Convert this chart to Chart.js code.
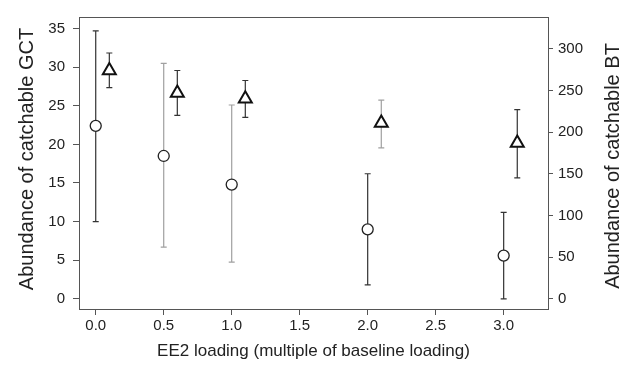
<!DOCTYPE html>
<html><head><meta charset="utf-8">
<script src="https://cdn.jsdelivr.net/npm/chart.js@4.4.1/dist/chart.umd.min.js"></script>
<style>html,body{margin:0;padding:0;background:#fff;}#wrap{width:633px;height:369px;}</style>
</head><body><div id="wrap"><canvas id="c" width="633" height="369"></canvas></div>
<script>
// ---- data ----
const gctDose = [0, 0.5, 1, 2, 3];
const gctMean = [22.4, 18.5, 14.8, 9.0, 5.6];
const gctLow  = [10.0, 6.7, 4.75, 1.8, 0];
const gctHigh = [34.7, 30.5, 25.1, 16.2, 11.2];
const btDose = [0.1, 0.6, 1.1, 2.1, 3.1];
const btMean = [274, 247, 240, 211, 187];
const btLow  = [253.5, 220, 217.6, 181, 145];
const btHigh = [295, 274, 262, 238.4, 227];
const xTicks = [0, 0.5, 1, 1.5, 2, 2.5, 3];
const yLeftTicks = [0, 5, 10, 15, 20, 25, 30, 35];
const yRightTicks = [0, 50, 100, 150, 200, 250, 300];
const xTitle = 'EE2 loading (multiple of baseline loading)';
const yLeftTitle = 'Abundance of catchable GCT';
const yRightTitle = 'Abundance of catchable BT';

// ---- styles ----
const DARK = '#333333', LIGHT = '#a0a0a0', AXIS = '#555555', TEXT = '#222222';
const gctBarColors = [DARK, LIGHT, LIGHT, DARK, DARK];
const btBarColors = [DARK, DARK, DARK, LIGHT, DARK];
const FONT = "'Liberation Sans', Arial, sans-serif";

function rotatedTitle(ctx, text, x, y) {
  ctx.save();
  ctx.fillStyle = TEXT;
  ctx.font = '20px ' + FONT;
  ctx.textAlign = 'center'; ctx.textBaseline = 'middle';
  ctx.translate(x, y);
  ctx.rotate(-Math.PI / 2);
  ctx.fillText(text, 0, 0);
  ctx.restore();
}

const errorBars = {
  id: 'errorBars',
  beforeDatasetsDraw(chart) {
    const ctx = chart.ctx, xs = chart.scales.x;
    const sets = [
      {dose: gctDose, lo: gctLow, hi: gctHigh, cols: gctBarColors, ys: chart.scales.y},
      {dose: btDose, lo: btLow, hi: btHigh, cols: btBarColors, ys: chart.scales.y2}
    ];
    ctx.save();
    ctx.lineWidth = 1.2;
    sets.forEach(s => {
      s.dose.forEach((d, i) => {
        const px = xs.getPixelForValue(d);
        const y1 = s.ys.getPixelForValue(s.lo[i]);
        const y2 = s.ys.getPixelForValue(s.hi[i]);
        ctx.strokeStyle = s.cols[i];
        ctx.beginPath();
        ctx.moveTo(px, y1); ctx.lineTo(px, y2);
        ctx.moveTo(px - 3, y1); ctx.lineTo(px + 3, y1);
        ctx.moveTo(px - 3, y2); ctx.lineTo(px + 3, y2);
        ctx.stroke();
      });
    });
    ctx.restore();
  },
  afterDraw(chart) {
    const ctx = chart.ctx, a = chart.chartArea;
    ctx.save();
    ctx.strokeStyle = AXIS; ctx.lineWidth = 1;
    ctx.beginPath();
    ctx.moveTo(a.left, a.top + 0.5); ctx.lineTo(a.right, a.top + 0.5);
    ctx.stroke();
    ctx.restore();
    const mid = (a.top + a.bottom) / 2;
    rotatedTitle(ctx, yLeftTitle, 27, mid - 4);
    rotatedTitle(ctx, yRightTitle, 613, mid + 3);
  }
};

const tickFont = {family: FONT, size: 15};
new Chart(document.getElementById('c'), {
  type: 'scatter',
  data: {
    datasets: [
      {
        label: 'GCT', yAxisID: 'y',
        data: gctDose.map((d, i) => ({x: d, y: gctMean[i]})),
        pointStyle: 'circle', pointRadius: 5.5, pointHoverRadius: 5.5,
        borderColor: '#222', backgroundColor: '#fff', pointBorderWidth: 1.3
      },
      {
        label: 'BT', yAxisID: 'y2',
        data: btDose.map((d, i) => ({x: d, y: btMean[i]})),
        pointStyle: 'triangle', pointRadius: 7.5, pointHoverRadius: 7.5,
        borderColor: '#111', backgroundColor: '#fff', pointBorderWidth: 2
      }
    ]
  },
  options: {
    responsive: false, animation: false, devicePixelRatio: 1,
    layout: {padding: {top: 9, left: 0, right: 0, bottom: 0}},
    plugins: {legend: {display: false}, tooltip: {enabled: false}},
    scales: {
      x: {
        type: 'linear', min: -0.123, max: 3.326,
        afterBuildTicks: s => { s.ticks = xTicks.map(v => ({value: v})); },
        afterFit: s => { s.height = 60; },
        ticks: {font: tickFont, color: TEXT, padding: 2, maxRotation: 0, autoSkip: false,
                callback: v => Number(v).toFixed(1)},
        grid: {drawOnChartArea: false, drawTicks: true, tickLength: 6, color: AXIS},
        border: {display: true, color: AXIS, width: 1},
        title: {display: true, text: xTitle, color: TEXT, font: {family: FONT, size: 17},
                padding: {top: 0, bottom: 7}}
      },
      y: {
        type: 'linear', position: 'left', min: -1.32, max: 36.5,
        afterBuildTicks: s => { s.ticks = yLeftTicks.map(v => ({value: v})); },
        afterFit: s => { s.width = 79; },
        ticks: {font: tickFont, color: TEXT, padding: 8, autoSkip: false},
        grid: {drawOnChartArea: false, drawTicks: true, tickLength: 6, color: AXIS},
        border: {display: true, color: AXIS, width: 1}
      },
      y2: {
        type: 'linear', position: 'right', min: -12.3, max: 338.2,
        afterBuildTicks: s => { s.ticks = yRightTicks.map(v => ({value: v})); },
        afterFit: s => { s.width = 85; },
        ticks: {font: tickFont, color: TEXT, padding: 5, autoSkip: false},
        grid: {drawOnChartArea: false, drawTicks: true, tickLength: 5, color: AXIS},
        border: {display: true, color: AXIS, width: 1}
      }
    }
  },
  plugins: [errorBars]
});
</script></body></html>
